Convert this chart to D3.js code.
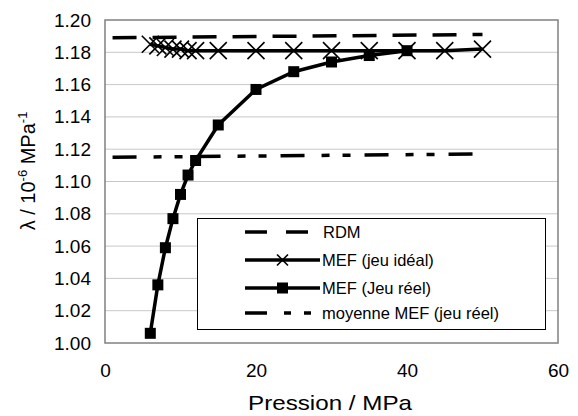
<!DOCTYPE html>
<html lang="fr">
<head>
  <meta charset="UTF-8">
  <title>λ en fonction de la pression</title>
  <script src="https://cdn.jsdelivr.net/npm/d3@7"></script>
  <style>
    body { margin: 0; background: #fff; }
    svg { font-family: "Liberation Sans", Arial, sans-serif; }
    .tick text { font-size: 19px; fill: #000; }
  </style>
</head>
<body>
  <svg id="chart" width="578" height="416"></svg>
  <script>
    // données
    const rdmX = [1, 50];
    const rdmY = [1.189, 1.191];

    const idealX = [6, 7, 8, 9, 10, 11, 12, 15, 20, 25, 30, 35, 40, 45, 50];
    const idealY = [1.185, 1.184, 1.183, 1.182, 1.182, 1.181, 1.181, 1.181, 1.181, 1.181, 1.181, 1.181, 1.181, 1.181, 1.182];

    const reelX = [6, 7, 8, 9, 10, 11, 12, 15, 20, 25, 30, 35, 40];
    const reelY = [1.006, 1.036, 1.059, 1.077, 1.092, 1.104, 1.113, 1.135, 1.157, 1.168, 1.174, 1.178, 1.181];

    const moyX = [1, 49];
    const moyY = [1.115, 1.117];

    const xTicks = [0, 20, 40, 60];
    const yTicks = [1.00, 1.02, 1.04, 1.06, 1.08, 1.10, 1.12, 1.14, 1.16, 1.18, 1.20];

    const legendLabels = ['RDM', 'MEF (jeu idéal)', 'MEF (Jeu réel)', 'moyenne MEF (jeu réel)'];

    const pL = 105, pR = 558, pT = 20, pB = 343;
    const svg = d3.select('#chart');

    const x = d3.scaleLinear().domain([0, 60]).range([pL, pR]);
    const y = d3.scaleLinear().domain([1.00, 1.20]).range([pB, pT]);

    // grille horizontale
    svg.append('g')
      .selectAll('line')
      .data(yTicks.slice(1, -1))
      .join('line')
        .attr('x1', pL).attr('x2', pR)
        .attr('y1', d => y(d)).attr('y2', d => y(d))
        .attr('stroke', '#c8c8c8')
        .attr('stroke-width', 1);

    // cadre
    svg.append('rect')
      .attr('x', pL).attr('y', pT)
      .attr('width', pR - pL).attr('height', pB - pT)
      .attr('fill', 'none')
      .attr('stroke', '#808080')
      .attr('stroke-width', 1.5);

    // axes
    const yAxis = svg.append('g')
      .attr('transform', `translate(${pL},0)`)
      .call(d3.axisLeft(y).tickValues(yTicks).tickFormat(d3.format('.2f')).tickSize(0).tickPadding(14));
    yAxis.select('.domain').remove();

    const xAxis = svg.append('g')
      .attr('transform', `translate(0,${pB})`)
      .call(d3.axisBottom(x).tickValues(xTicks).tickSize(0).tickPadding(21));
    xAxis.select('.domain').remove();

    // titres des axes (police un peu étirée comme l'original)
    svg.append('text')
      .attr('x', 248)
      .attr('y', 410)
      .attr('font-size', 21)
      .attr('textLength', 164)
      .attr('lengthAdjust', 'spacingAndGlyphs')
      .text('Pression / MPa');

    const yt = svg.append('text')
      .attr('transform', 'translate(35,171) rotate(-90)')
      .attr('text-anchor', 'middle')
      .attr('font-size', 20);
    yt.append('tspan').text('λ / 10');
    yt.append('tspan').attr('font-size', 13).attr('dy', -8).text('-6');
    yt.append('tspan').attr('dy', 8).text(' MPa');
    yt.append('tspan').attr('font-size', 13).attr('dy', -8).text('-1');

    const line = d3.line().x(d => x(d[0])).y(d => y(d[1]));
    const zip = (a, b) => a.map((v, i) => [v, b[i]]);

    const dashRdm = '24,16';
    const dashMoy = '24,17,8,13,8,14';

    // RDM
    svg.append('path')
      .attr('d', line(zip(rdmX, rdmY)))
      .attr('fill', 'none').attr('stroke', '#000')
      .attr('stroke-width', 3.5)
      .attr('stroke-dasharray', dashRdm);

    // moyenne MEF
    svg.append('path')
      .attr('d', line(zip(moyX, moyY)))
      .attr('fill', 'none').attr('stroke', '#000')
      .attr('stroke-width', 3.5)
      .attr('stroke-dasharray', dashMoy);

    // MEF idéal
    const ideal = zip(idealX, idealY);
    svg.append('path')
      .attr('d', line(ideal))
      .attr('fill', 'none').attr('stroke', '#000')
      .attr('stroke-width', 3.5);
    const cross = (g, cx, cy, s) => {
      g.append('path')
        .attr('d', `M${cx - s},${cy - s}L${cx + s},${cy + s}M${cx - s},${cy + s}L${cx + s},${cy - s}`)
        .attr('stroke', '#000').attr('stroke-width', 1.6).attr('fill', 'none');
    };
    const gCross = svg.append('g');
    ideal.forEach(d => cross(gCross, x(d[0]), y(d[1]), 8.5));

    // MEF réel
    const reel = zip(reelX, reelY);
    svg.append('path')
      .attr('d', line(reel))
      .attr('fill', 'none').attr('stroke', '#000')
      .attr('stroke-width', 3.5);
    svg.append('g')
      .selectAll('rect')
      .data(reel)
      .join('rect')
        .attr('x', d => x(d[0]) - 5.5)
        .attr('y', d => y(d[1]) - 5.5)
        .attr('width', 11).attr('height', 11)
        .attr('fill', '#000');

    // légende
    svg.append('rect')
      .attr('x', 197.5).attr('y', 218.5)
      .attr('width', 348).attr('height', 111)
      .attr('fill', '#fff')
      .attr('stroke', '#000')
      .attr('stroke-width', 1);

    const rowsY = [232, 260, 288, 313];
    const lx1 = 245, lx2 = 320;
    const lg = svg.append('g');
    legendLabels.forEach((lab, i) => {
      const ly = rowsY[i];
      const p = lg.append('line')
        .attr('x1', lx1).attr('x2', lx2)
        .attr('y1', ly).attr('y2', ly)
        .attr('stroke', '#000')
        .attr('stroke-width', 3.5);
      if (i === 0) p.attr('stroke-dasharray', '22,19');
      if (i === 3) p.attr('stroke-dasharray', '22,17,7,13,7');
      if (i === 1) cross(lg, (lx1 + lx2) / 2, ly, 5.5);
      if (i === 2) lg.append('rect')
        .attr('x', (lx1 + lx2) / 2 - 5.5).attr('y', ly - 5.5)
        .attr('width', 11).attr('height', 11).attr('fill', '#000');
      lg.append('text')
        .attr('x', i === 0 ? 323 : 322)
        .attr('y', ly + 6)
        .attr('font-size', 16.5)
        .text(lab);
    });
  </script>
</body>
</html>
